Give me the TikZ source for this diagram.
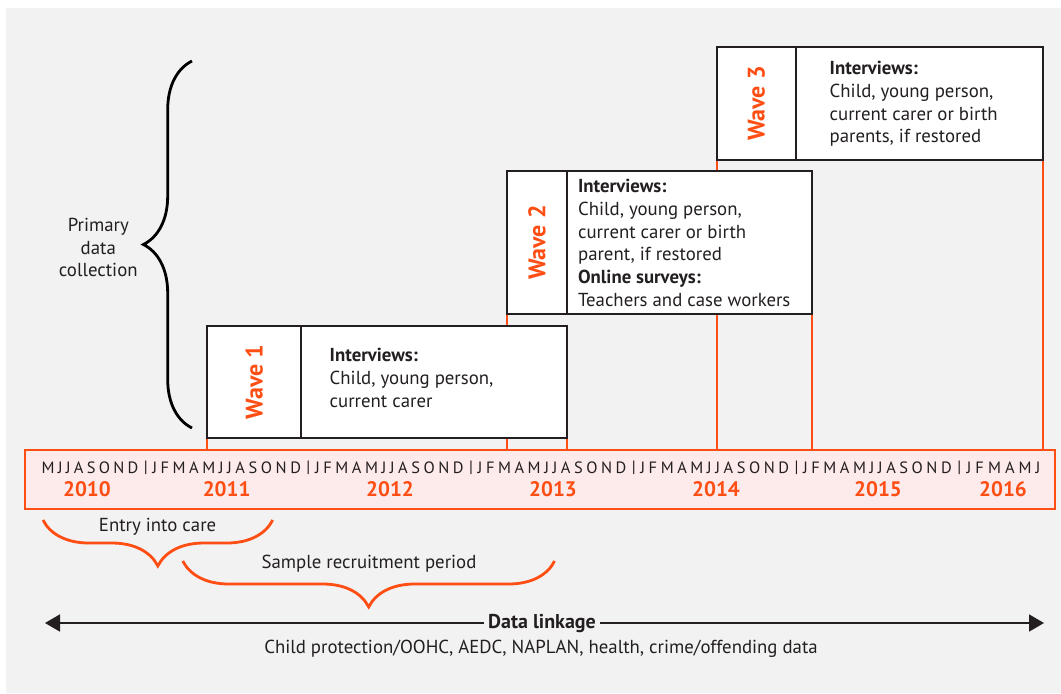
\documentclass[tikz,border=0pt]{standalone}
\usepackage{fontspec}
\setmainfont{PT Sans}
\usetikzlibrary{arrows.meta, decorations.pathreplacing, backgrounds}

\definecolor{waveorange}{RGB}{255,78,20}
\definecolor{pinkfill}{RGB}{253,234,234}
\definecolor{bggray}{RGB}{242,242,242}
\definecolor{inkgray}{RGB}{35,31,32}

\newcommand{\fullyear}{J\hfill F\hfill M\hfill A\hfill M\hfill J\hfill J\hfill A\hfill S\hfill O\hfill N\hfill D}

\tikzset{
    cell/.style={draw=inkgray, line width=1pt, fill=white, outer sep=0pt, inner sep=0pt},
    wavelbl/.style={rotate=90, text=waveorange, font=\bfseries\fontsize{12}{13}\selectfont},
    boxtext/.style={align=left, anchor=west, inner sep=0pt},
    tick/.style={draw=waveorange, line width=1pt},
    timeline/.style={draw=waveorange, fill=pinkfill, line width=1pt, inner sep=0pt},
    month/.style={font=\fontsize{8.2}{9}\selectfont, inner sep=0pt},
    year/.style={font=\bfseries\fontsize{10.5}{12}\selectfont, text=waveorange, inner sep=0pt},
    obrace/.style={decorate, decoration={brace, amplitude=23pt}, draw=waveorange, line width=1.4pt},
    kbrace/.style={decorate, decoration={brace, amplitude=24.3pt}, draw=black, line width=1.4pt},
    linkarrow/.style={draw=inkgray, line width=0.9pt, -{Triangle[length=7.5pt, width=8.5pt]}}
}

\begin{document}
\begin{tikzpicture}[x=0.5pt, y=-0.5pt, font=\fontsize{9.4}{11.35}\selectfont, text=inkgray]
    \useasboundingbox (0,0) rectangle (1061,693);

    % timeline
    \node[timeline, minimum width=515pt, minimum height=29.6pt] (tl) at (540,479.7) {};
    \node[month, anchor=east] (mon2010) at (138.7,467.5) {\makebox[48.35pt]{M\hfill J\hfill J\hfill A\hfill S\hfill O\hfill N\hfill D}};
    \foreach \k in {1,...,5}
        \node[month, anchor=east] (mon201\k) at ({138.7+162.7*\k},467.5) {\makebox[74.35pt]{\fullyear}};
    \node[month, anchor=west] (mon2016) at (966.3,467.5) {\makebox[36.85pt]{J\hfill F\hfill M\hfill A\hfill M\hfill J}};
    \foreach \k in {0,...,5}
        \node[month] (sep\k) at ({145.7+162.7*\k},467.5) {|};
    \foreach \yr/\xx in {2010/87, 2011/226.6, 2012/390, 2013/553, 2014/716, 2015/878, 2016/1003}
        \node[year] (y\yr) at (\xx,489) {\yr};

    % waves
    \node[cell, anchor=south west, minimum width=46.85pt, minimum height=56pt] (w1) at (207.3,437.7) {};
    \node[cell, anchor=south west, minimum width=132.85pt, minimum height=56pt] (t1) at (w1.south east) {};
    \node[cell, anchor=south west, minimum width=29.7pt, minimum height=71.65pt] (w2) at (507.3,314.3) {};
    \node[cell, anchor=south west, minimum width=122.5pt, minimum height=71.65pt] (t2) at (w2.south east) {};
    \node[cell, anchor=south west, minimum width=39.65pt, minimum height=56.35pt] (w3) at (716.7,160) {};
    \node[cell, anchor=south west, minimum width=123.65pt, minimum height=56.35pt] (t3) at (w3.south east) {};

    \node[wavelbl] (l1) at (w1.center) {Wave 1};
    \node[wavelbl] (l2) at (w2.center) {Wave 2};
    \node[wavelbl] (l3) at (w3.center) {Wave 3};

    \node[boxtext] (x1) at (329.3,378) {\textbf{Interviews:}\\Child, young person,\\current carer};
    \node[boxtext] (x2) at (577.7,243) {\textbf{Interviews:}\\Child, young person,\\current carer or birth\\parent, if restored\\\textbf{Online surveys:}\\Teachers and case workers};
    \node[boxtext] (x3) at (829.3,104) {\textbf{Interviews:}\\Child, young person,\\current carer or birth\\parents, if restored};

    \begin{scope}[on background layer]
        \fill[bggray] (6,8) rectangle (1061,693);
        \foreach \n in {w1.south west, t1.south east, w2.south west, t2.south east, w3.south west, t3.south east}
            \draw[tick] (\n) -- (\n |- tl.north);
    \end{scope}

    % primary data collection
    \coordinate (pdcB) at (192,428);
    \coordinate (pdcT) at (192,61);
    \draw[kbrace] (pdcB) -- (pdcT);
    \node[align=center] (pdc) at (98.3,247.5) {Primary\\data\\collection};

    % periods
    \coordinate (entryL) at (43,520);
    \coordinate (entryR) at (272.7,520);
    \draw[obrace] (entryR) -- (entryL);
    \node (entry) at (157.6,526.7) {Entry into care};
    \coordinate (sampL) at (182.8,561);
    \coordinate (sampR) at (554.6,561);
    \draw[obrace] (sampR) -- (sampL);
    \node (samp) at (369,563.3) {Sample recruitment period};

    % data linkage
    \node[font=\bfseries, inner sep=2pt] (link) at (542,623) {Data linkage};
    \coordinate (linkL) at (45,623);
    \coordinate (linkR) at (1044,623);
    \draw[linkarrow] (link.west) -- (linkL);
    \draw[linkarrow] (link.east) -- (linkR);
    \node (src) at (541,648.3) {Child protection/OOHC, AEDC, NAPLAN, health, crime/offending data};
\end{tikzpicture}
\end{document}
